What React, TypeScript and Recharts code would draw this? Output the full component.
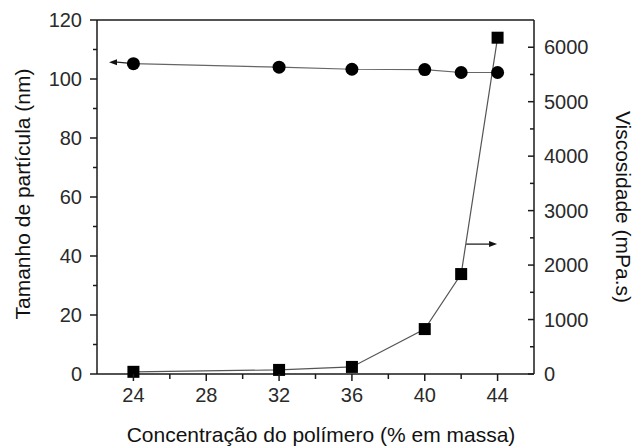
import React from 'react';
import { ComposedChart, Line, XAxis, YAxis, ReferenceLine, Label } from 'recharts';

const concentration = [24, 32, 36, 40, 42, 44];
const particleSize = [105.2, 104.0, 103.3, 103.2, 102.2, 102.2];
const viscosity = [40, 75, 130, 825, 1835, 6175];

const xTicks = [24, 26, 28, 30, 32, 34, 36, 38, 40, 42, 44];
const xMajor = [24, 28, 32, 36, 40, 44];
const leftTicks = [0, 10, 20, 30, 40, 50, 60, 70, 80, 90, 100, 110, 120];
const leftMajor = [0, 20, 40, 60, 80, 100, 120];
const rightTicks = [0, 500, 1000, 1500, 2000, 2500, 3000, 3500, 4000, 4500, 5000, 5500, 6000];
const rightMajor = [0, 1000, 2000, 3000, 4000, 5000, 6000];

const data = concentration.map((c, i) => ({ c, size: particleSize[i], visc: viscosity[i] }));

const AX = '#1a1a1a';
const TXT = '#2a2a2a';
const FONT = 'Liberation Sans, Arial, sans-serif';

const LeftTick = (p: any) => {
  const v = p.payload.value;
  const major = leftMajor.includes(v);
  const ax = p.x + 15;
  return (
    <g>
      <line x1={ax - (major ? 7 : 4)} x2={ax} y1={p.y} y2={p.y} stroke={AX} strokeWidth={1.5} />
      {major && (
        <text x={p.x} y={p.y} dy="0.36em" textAnchor="end" fontSize={20} fill={TXT} fontFamily={FONT}>
          {v}
        </text>
      )}
    </g>
  );
};

const RightTick = (p: any) => {
  const v = p.payload.value;
  const major = rightMajor.includes(v);
  const ax = p.x - 10;
  return (
    <g>
      <line x1={ax - (major ? 6 : 4)} x2={ax} y1={p.y} y2={p.y} stroke={AX} strokeWidth={1.5} />
      {major && (
        <text x={p.x} y={p.y} dy="0.36em" textAnchor="start" fontSize={20} fill={TXT} fontFamily={FONT}>
          {v}
        </text>
      )}
    </g>
  );
};

const BottomTick = (p: any) => {
  const v = p.payload.value;
  const major = xMajor.includes(v);
  const ay = p.y - 14;
  return (
    <g>
      <line x1={p.x} x2={p.x} y1={ay} y2={ay + (major ? 7 : 5)} stroke={AX} strokeWidth={1.5} />
      {major && (
        <text x={p.x} y={p.y} dy="0.71em" textAnchor="middle" fontSize={20} fill={TXT} fontFamily={FONT}>
          {v}
        </text>
      )}
    </g>
  );
};

const SquareDot = (p: any) => {
  if (p.cx == null || p.cy == null) return <g key={p.index} />;
  return <rect key={p.index} x={p.cx - 6} y={p.cy - 6} width={12} height={12} fill="#000" />;
};

const arrowShape = (dir: number) => (p: any) => {
  const { x1, y1, x2, y2 } = p;
  const tipX = dir < 0 ? Math.min(x1, x2) : Math.max(x1, x2);
  const tailX = dir < 0 ? Math.max(x1, x2) : Math.min(x1, x2);
  const tipY = tipX === x1 ? y1 : y2;
  const tailY = tipX === x1 ? y2 : y1;
  const back = tipX - dir * 8;
  return (
    <g>
      <line x1={tailX} y1={tailY} x2={back} y2={tipY} stroke="#222" strokeWidth={1.3} />
      <polygon points={`${tipX},${tipY} ${back},${tipY - 3} ${back},${tipY + 3}`} fill="#111" />
    </g>
  );
};

export default function App() {
  return (
    <div style={{ position: 'absolute', left: 0, top: 0 }}>
      <ComposedChart width={635} height={447} data={data} margin={{ top: 20, right: 0, bottom: 0, left: 0 }}>
        <XAxis
          dataKey="c"
          type="number"
          domain={[22, 46]}
          ticks={xTicks}
          interval={0}
          height={73}
          tickSize={0}
          tickMargin={14}
          tick={BottomTick}
          axisLine={{ stroke: AX, strokeWidth: 1.5 }}
        >
          <Label
            content={() => (
              <text x={321} y={442} textAnchor="middle" fontSize={21} fill="#111" fontFamily={FONT}>
                Concentração do polímero (% em massa)
              </text>
            )}
          />
        </XAxis>
        <YAxis
          yAxisId="left"
          orientation="left"
          type="number"
          domain={[0, 120]}
          ticks={leftTicks}
          interval={0}
          width={97}
          tickSize={0}
          tickMargin={15}
          tick={LeftTick}
          axisLine={{ stroke: AX, strokeWidth: 1.5 }}
        >
          <Label
            content={() => (
              <text x={22} y={194} dy="0.36em" transform="rotate(-90, 22, 194)" textAnchor="middle" fontSize={21} fill="#111" fontFamily={FONT}>
                Tamanho de partícula (nm)
              </text>
            )}
          />
        </YAxis>
        <YAxis
          yAxisId="right"
          orientation="right"
          type="number"
          domain={[0, 6500]}
          ticks={rightTicks}
          interval={0}
          width={101}
          tickSize={0}
          tickMargin={10}
          tick={RightTick}
          axisLine={{ stroke: AX, strokeWidth: 1.5 }}
        >
          <Label
            content={() => (
              <text x={624} y={207} dy="0.36em" transform="rotate(90, 624, 207)" textAnchor="middle" fontSize={21} fill="#111" fontFamily={FONT}>
                Viscosidade (mPa.s)
              </text>
            )}
          />
        </YAxis>
        <ReferenceLine yAxisId="left" y={120} stroke={AX} strokeWidth={1.5} />
        <ReferenceLine
          yAxisId="left"
          segment={[{ x: 24, y: 105.2 }, { x: 22.66, y: 105.7 }]}
          shape={arrowShape(-1)}
        />
        <ReferenceLine
          yAxisId="right"
          segment={[{ x: 42.27, y: 2385 }, { x: 43.97, y: 2385 }]}
          shape={arrowShape(1)}
        />
        <Line
          yAxisId="left"
          dataKey="size"
          stroke="#666"
          strokeWidth={1.2}
          dot={{ r: 6.5, fill: '#000', stroke: '#000', strokeWidth: 0 }}
          isAnimationActive={false}
        />
        <Line
          yAxisId="right"
          dataKey="visc"
          stroke="#555"
          strokeWidth={1.2}
          dot={SquareDot}
          isAnimationActive={false}
        />
      </ComposedChart>
    </div>
  );
}
